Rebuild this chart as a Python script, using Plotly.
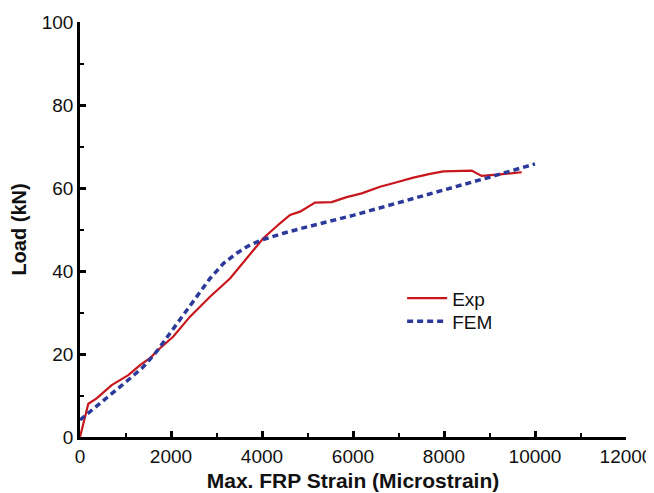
import plotly.graph_objects as go

exp_strain = [0, 183, 366, 513, 696, 879, 1062, 1319, 1539, 1758, 2051, 2418, 2857, 3297, 3663,
              4029, 4396, 4616, 4836, 5165, 5532, 5861, 6191, 6594, 6960, 7327, 7693, 7986,
              8608, 8828, 9231, 9708]
exp_load = [0, 8.0, 9.3, 10.7, 12.5, 13.7, 14.9, 17.3, 19.0, 21.4, 24.2, 29.0, 33.8, 38.2, 43.1,
            47.9, 51.5, 53.5, 54.3, 56.5, 56.6, 57.8, 58.7, 60.3, 61.4, 62.5, 63.4, 64.0,
            64.2, 62.9, 63.3, 63.8]

fem_strain = [0, 220, 513, 806, 1099, 1392, 1685, 1978, 2271, 2564, 2857, 3150, 3443, 3737,
              4029, 4469, 4909, 6000, 7000, 8000, 9000, 10000]
fem_load = [4.1, 6.1, 8.5, 11.3, 14.1, 16.9, 20.6, 25.0, 29.4, 33.8, 38.2, 41.8, 44.3, 46.3,
            47.6, 49.1, 50.4, 53.4, 56.4, 59.5, 62.6, 65.8]

x_ticks = [0, 2000, 4000, 6000, 8000, 10000, 12000]
y_ticks = [0, 20, 40, 60, 80, 100]

fig = go.Figure()
fig.add_trace(go.Scatter(x=exp_strain, y=exp_load, mode="lines", name="Exp", legend="legend",
                         line=dict(color="#c8161d", width=2.2)))
fig.add_trace(go.Scatter(x=fem_strain, y=fem_load, mode="lines", name="FEM", legend="legend2",
                         line=dict(color="#2b3a9a", width=3.5, dash="6px,4px")))

font = "Liberation Sans, Arial, sans-serif"
leg_common = dict(xanchor="left", yanchor="top", bgcolor="rgba(0,0,0,0)",
                  font=dict(size=19), itemwidth=40)
fig.update_layout(
    width=654, height=493,
    margin=dict(l=72, r=36, t=14, b=64),
    paper_bgcolor="white", plot_bgcolor="white",
    font=dict(family=font, size=19, color="#111"),
    showlegend=True,
    legend=dict(x=0.59, y=0.38, **leg_common),
    legend2=dict(x=0.59, y=0.3246, **leg_common),
    xaxis=dict(range=[0, 12000], tickvals=x_ticks, ticktext=[str(v) for v in x_ticks],
               automargin=False,
               showgrid=False, zeroline=False, showline=True, linecolor="black", linewidth=2.5,
               ticks="inside", ticklen=6, tickwidth=2.5, tickcolor="black",
               minor=dict(dtick=1000, ticks="inside", ticklen=4, tickwidth=2, tickcolor="black"),
               title=dict(text="<b>Max. FRP Strain (Microstrain)</b>", font=dict(size=21), standoff=8)),
    yaxis=dict(range=[0, 100], tickvals=y_ticks, ticktext=[str(v) for v in y_ticks],
               automargin=False,
               showgrid=False, zeroline=False, showline=True, linecolor="black", linewidth=2.5,
               ticks="inside", ticklen=6, tickwidth=2.5, tickcolor="black",
               minor=dict(dtick=10, ticks="inside", ticklen=4, tickwidth=2, tickcolor="black"),
               title=dict(text="<b>Load (kN)</b>", font=dict(size=20), standoff=10)),
)
fig.write_html("out.html")
